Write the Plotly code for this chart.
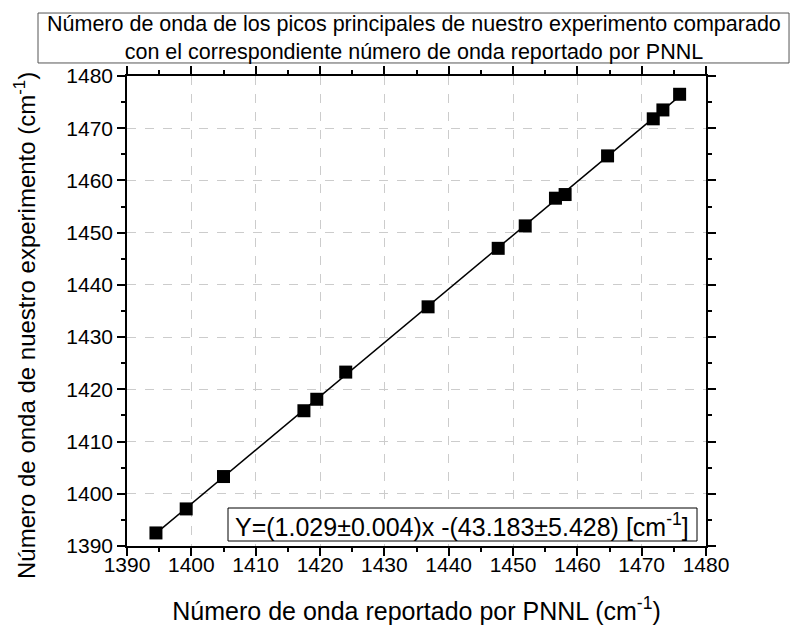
import numpy as np
import plotly.graph_objects as go

# Data
pnnl_wavenumber = [1394.5, 1399.2, 1405.0, 1417.5, 1419.5, 1424.0, 1436.8, 1447.7,
                   1451.9, 1456.6, 1458.1, 1464.7, 1471.8, 1473.3, 1475.9]
exp_wavenumber = [1392.5, 1397.1, 1403.3, 1415.9, 1418.1, 1423.3, 1435.8, 1447.0,
                  1451.3, 1456.6, 1457.3, 1464.7, 1471.8, 1473.5, 1476.5]
tick_values = [1390, 1400, 1410, 1420, 1430, 1440, 1450, 1460, 1470, 1480]

title_text = ("Número de onda de los picos principales de nuestro experimento comparado<br>"
              "con el correspondiente número de onda reportado por PNNL")
fit_text = "Y=(1.029±0.004)x -(43.183±5.428) [cm<sup>-1</sup>]"
x_title = "Número de onda reportado por PNNL (cm<sup>-1</sup>)"
y_title = "Número de onda de nuestro experimento (cm<sup>-1</sup>)"

FONT = "Liberation Sans, Arial, sans-serif"

# Linear fit through data
slope, intercept = np.polyfit(pnnl_wavenumber, exp_wavenumber, 1)
fit_x = np.array([min(pnnl_wavenumber), max(pnnl_wavenumber)])
fit_y = slope * fit_x + intercept

fig = go.Figure()
fig.add_trace(go.Scatter(x=fit_x, y=fit_y, mode="lines",
                         line=dict(color="black", width=1.5), showlegend=False,
                         hoverinfo="skip"))
fig.add_trace(go.Scatter(x=pnnl_wavenumber, y=exp_wavenumber, mode="markers",
                         marker=dict(symbol="square", size=13, color="black"),
                         showlegend=False))

axis_common = dict(
    showline=True, linecolor="black", linewidth=1.5, mirror="ticks",
    ticks="outside", ticklen=8, tickwidth=1.5, tickcolor="black",
    tickvals=tick_values,
    minor=dict(ticks="outside", ticklen=4, tickwidth=1.5, tickcolor="black", dtick=5,
               showgrid=False),
    showgrid=True, gridcolor="#cccccc", griddash="dash", gridwidth=1,
    zeroline=False, automargin=False,
    tickfont=dict(family=FONT, size=21, color="black"),
)

fig.update_xaxes(range=[1390, 1480], **axis_common, ticklabelstandoff=-9,
                 title=dict(text=x_title,
                            font=dict(family=FONT, size=25, color="black"), standoff=30))
fig.update_yaxes(range=[1390, 1480], **axis_common)

# Y axis title (placed slightly below centre, as in the reference)
fig.add_annotation(xref="paper", yref="paper", x=(25 - 127) / 579, y=(546 - 326) / 470,
                   text=y_title, textangle=-90, showarrow=False,
                   xanchor="center", yanchor="middle",
                   font=dict(family=FONT, size=24, color="black"))

# Title box
tx0, tx1, ty0, ty1 = -0.1537, 1.1434, 1.0277, 1.134
fig.add_shape(type="rect", xref="paper", yref="paper",
              x0=tx0, x1=tx1, y0=ty0, y1=ty1,
              line=dict(color="#555555", width=1), fillcolor="white", layer="above")
fig.add_annotation(xref="paper", yref="paper", x=(tx0 + tx1) / 2,
                   y=(ty0 + ty1) / 2, text=title_text, showarrow=False,
                   xanchor="center", yanchor="middle",
                   font=dict(family=FONT, size=21.5, color="black"))

# Equation box
bx0 = (228 - 127) / 579
bx1 = (697 - 127) / 579
by0 = (546 - 541) / 470
by1 = (546 - 508) / 470
fig.add_shape(type="rect", xref="paper", yref="paper", x0=bx0, x1=bx1, y0=by0, y1=by1,
              line=dict(color="black", width=1), fillcolor="white", layer="above")
fig.add_annotation(xref="paper", yref="paper", x=(bx0 + bx1) / 2, y=(by0 + by1) / 2,
                   text=fit_text, showarrow=False, xanchor="center", yanchor="middle",
                   font=dict(family=FONT, size=25, color="black"))

fig.update_layout(
    width=790, height=625,
    margin=dict(l=127, r=84, t=76, b=79),
    plot_bgcolor="white", paper_bgcolor="white",
    font=dict(family=FONT, color="black"),
)

fig.write_html("out.html")
